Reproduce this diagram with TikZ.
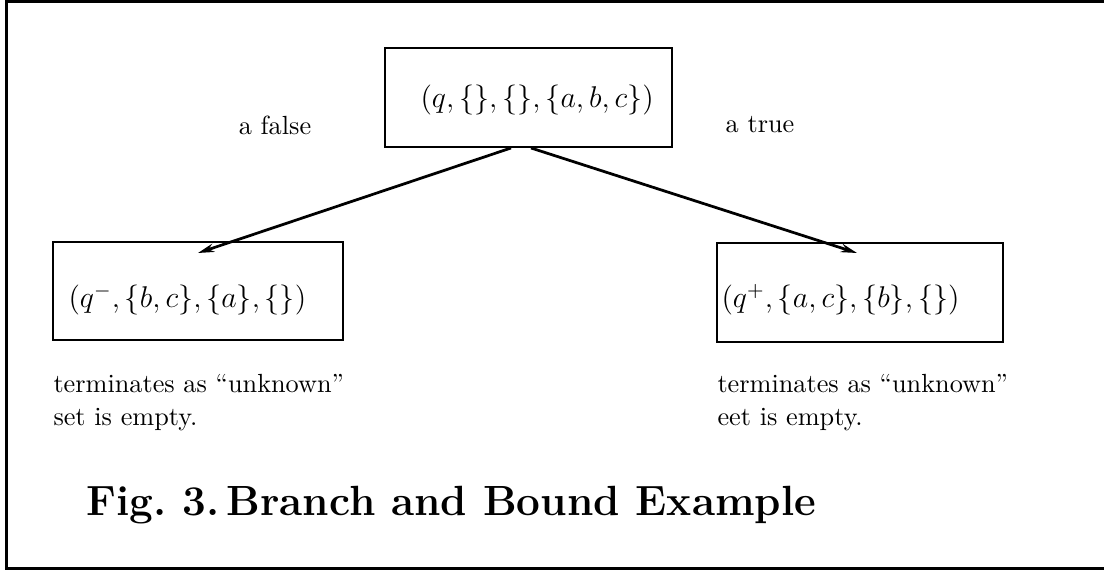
\documentclass[tikz,border=0pt]{standalone}
\usetikzlibrary{arrows.meta}
\begin{document}
\begin{tikzpicture}[x=0.4pt,y=-0.4pt,
  frame/.style={line width=1.2pt},
  box/.style={draw, line width=0.8pt, inner sep=0pt},
  txt/.style={inner sep=0pt, font=\fontsize{10.5}{13.2}\selectfont},
  mtxt/.style={inner sep=0pt, anchor=west, font=\fontsize{11.6}{14}\selectfont},
  note/.style={txt, align=left, anchor=north west},
  arr/.style={line width=1.1pt, -{Stealth[length=6.5pt,width=3.4pt]}},
  captxt/.style={inner sep=0pt, anchor=base west, font=\fontsize{16.9}{20}\selectfont\bfseries}]
\useasboundingbox (0,0) rectangle (1104,572);
\draw[frame] (1104,2) -- (6,2) -- (6,568) -- (1104,568);
% boxes
\node[box, minimum width=114.8pt, minimum height=39.6pt] (top) at (528.5,97.5) {};
\node[box, minimum width=116pt, minimum height=39.2pt] (left) at (198,291) {};
\node[box, minimum width=114.4pt, minimum height=39.6pt] (right) at (860,292.5) {};
% box contents
\node[mtxt] (toptxt) at (420,100) {$(q,\{\},\{\},\{a,b,c\})$};
\node[mtxt] (lefttxt) at (68,300) {$(q^-,\{b,c\},\{a\},\{\})$};
\node[mtxt] (righttxt) at (721,300) {$(q^+,\{a,c\},\{b\},\{\})$};
% arrow ends
\coordinate (lend) at (198,253);
\coordinate (rend) at (857,253);
\draw[arr] ([xshift=-7pt]top.south) -- (lend);
\draw[arr] ([xshift=1pt]top.south) -- (rend);
% labels
\node[txt] (lf) at (275,125) {a false};
\node[txt] (lt) at (760,125) {a true};
% notes
\node[note] (ln) at (53,374) {terminates as ``unknown''\\set is empty.};
\node[note] (rn) at (717,374) {terminates as ``unknown''\\eet is empty.};
% caption
\node[captxt] (caption) at (86,515) {Fig.\ 3.\,Branch and Bound Example};
\end{tikzpicture}
\end{document}
